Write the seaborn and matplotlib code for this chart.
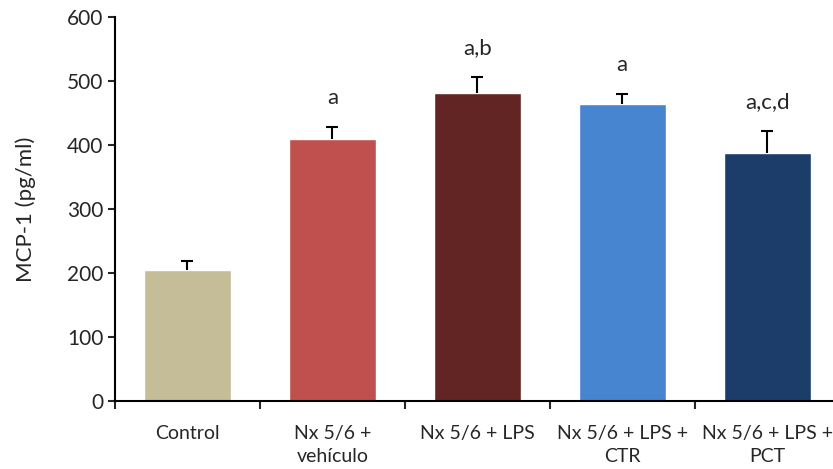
import numpy as np
import seaborn as sns
import matplotlib.pyplot as plt

# Datos
grupos = ['Control', 'Nx 5/6 +\nvehículo', 'Nx 5/6 + LPS',
          'Nx 5/6 + LPS +\nCTR', 'Nx 5/6 + LPS +\nPCT']
mcp1 = [205, 410, 481, 464, 388]
error = [14, 18, 25, 15, 33]
letras = ['', 'a', 'a,b', 'a', 'a,c,d']
colores = ['#C4BD97', '#C0504D', '#632523', '#4785D1', '#1C3D6A']

sns.set_style('white')
plt.rcParams['font.family'] = ['Lato', 'DejaVu Sans']
plt.rcParams['font.size'] = 14

fig = plt.figure(figsize=(8.33, 4.69), dpi=100)
ax = fig.add_axes([0.138, 0.145, 0.870, 0.819])

sns.barplot(x=grupos, y=mcp1, hue=grupos, palette=colores, legend=False,
            width=0.6, saturation=1, ax=ax)

# barras de error solo hacia arriba
centros = [p.get_x() + p.get_width() / 2 for p in ax.patches]
alturas = [p.get_height() for p in ax.patches]
linea, caps, barras = ax.errorbar(centros, alturas, yerr=[np.zeros(len(error)), error],
                                  fmt='none', ecolor='black', elinewidth=1.5,
                                  capsize=4, capthick=1.5)
caps[0].set_visible(False)  # sin tapa abajo

# letras de significancia
for x, h, e, t in zip(centros, alturas, error, letras):
    if t:
        ax.annotate(t, (x, h + e), xytext=(0, 21), textcoords='offset points',
                    ha='center', va='center', fontsize=16)

ax.set_ylim(0, 600)
ax.set_xlim(-0.5, 4.5)
ax.set_yticks(range(0, 601, 100))
ax.set_ylabel('MCP-1 (pg/ml)', fontsize=16, labelpad=22)
ax.set_xticks(range(5))
ax.set_xticklabels(grupos, linespacing=1.45)
ax.set_xticks(np.arange(-0.5, 4.6, 1), minor=True)
ax.tick_params(axis='x', which='major', length=0, pad=17, labelsize=14)
ax.tick_params(axis='x', which='minor', length=6, width=1.5, direction='out', bottom=True)
ax.tick_params(axis='y', length=5, width=1.5, direction='out', left=True, labelsize=15)

sns.despine(ax=ax)
for s in ['left', 'bottom']:
    ax.spines[s].set_linewidth(1.5)
    ax.spines[s].set_color('black')

fig.savefig('out.png', dpi=100)
